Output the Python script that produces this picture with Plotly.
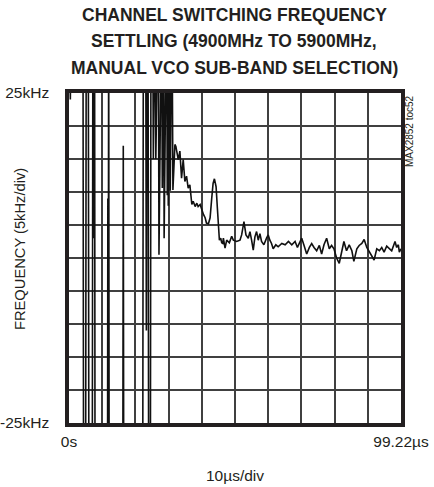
import plotly.graph_objects as go

# ---- data (time in µs, frequency error in kHz) ----
transient_t = [0.0, 0.4, 0.8, 4.2, 4.4, 5.0, 5.2, 5.8, 6.0, 7.0, 7.2, 7.45, 7.7, 7.85,
               11.6, 11.7, 11.8, 11.95, 12.1, 16.2, 16.35, 16.5, 22.2, 22.4, 23.1, 23.3,
               23.5, 23.8, 24.0, 24.5, 24.7, 25.2, 25.4, 25.6, 26.0, 26.15, 26.3, 26.9,
               27.1, 27.3, 27.9, 28.1, 28.3, 28.5, 28.65, 28.8, 29.4, 29.6, 29.75, 29.9,
               30.05, 30.3, 30.5, 30.7, 31.0, 31.3]
transient_f = [40, 24, 40, 40, -40, -40, 40, 40, -40, -40, 40, 3, 40, -40,
               -40, 9, -40, 40, -40, -40, 17, -40, -40, 40, 40, -11,
               40, 40, -40, -40, 40, 40, 15, 40, 40, 15, 40, 40,
               0.5, 40, 40, 10.6, 40, 40, 3, 40, 40, 9.5, 40, 7.9,
               40, 40, 10.2, 40, 40, 10.3]

settle_t = [31.9, 32.2, 32.9, 33.4, 33.9, 34.4, 34.9, 35.4, 35.9, 36.4, 37.0, 37.4, 38.0,
            38.5, 38.9, 39.5, 40.0, 40.5, 41.0, 41.4, 42.0, 42.5, 43.0, 43.4, 43.8, 44.3,
            44.7, 45.0, 45.3, 45.7, 46.0, 46.3, 46.5, 47.0, 47.5, 48.3, 49.0, 49.5, 50.5,
            51.5, 52.0, 52.7, 53.3, 54.0, 54.5, 55.0, 55.5, 56.0, 56.5, 57.0, 57.5, 58.0,
            58.7, 59.5, 60.0, 60.5, 61.0, 61.5, 62.3, 63.0, 64.1, 65.1, 66.1, 67.1, 68.1,
            68.8, 69.6, 70.1, 70.8, 71.6, 72.4, 73.1, 73.8, 74.6, 75.4, 76.1, 76.8, 77.6,
            78.4, 79.1, 79.8, 80.6, 81.4, 82.1, 82.8, 83.6, 84.4, 85.2, 85.8, 86.7, 87.4,
            88.2, 88.9, 89.7, 90.5, 91.2, 91.9, 92.7, 93.5, 94.2, 94.9, 95.7, 96.5, 97.2,
            98.2, 98.7, 99.2, 99.5, 100.0]
settle_f = [17.2, 16.9, 14.9, 16.2, 12.1, 14.9, 11.6, 12.4, 10.6, 11.1, 8.1, 8.6, 7.8,
            8.3, 7.8, 8.1, 7.3, 6.6, 6.1, 5.3, 5.2, 6.1, 9.1, 11.3, 12.0, 10.8,
            7.5, 4.5, 2.7, 3.0, 2.3, 2.2, 3.0, 1.5, 2.7, 2.3, 3.3, 2.7, 2.5,
            2.7, 3.5, 5.5, 3.5, 3.0, 4.0, 2.7, 1.2, 3.2, 4.0, 2.7, 3.7, 2.5,
            2.0, 3.0, 3.5, 2.7, 2.2, 1.4, 2.0, 1.7, 2.2, 2.0, 2.5, 2.0, 2.5,
            1.6, 2.5, 3.0, 1.9, 0.6, 1.6, 2.2, 1.6, 1.1, 1.9, 0.6, 2.0, 3.0,
            1.4, 1.9, 1.4, 0.0, -0.8, 1.1, 2.5, 1.1, 2.0, 1.1, -0.5, 1.4, 1.9,
            2.2, 2.8, 1.6, 0.9, 0.2, -0.3, 1.4, 1.1, 1.6, 0.9, 1.8, 1.4, 1.1,
            2.5, 1.6, 2.0, 0.9, 1.4]

x_tickvals = [0, 10, 20, 30, 40, 50, 60, 70, 80, 90, 100]
x_ticktext = ["0s", "", "", "", "", "", "", "", "", "", "99.22µs"]
y_tickvals = [-25, -20, -15, -10, -5, 0, 5, 10, 15, 20, 25]
y_ticktext = ["-25kHz", "", "", "", "", "", "", "", "", "", "25kHz"]
title_lines = ["CHANNEL SWITCHING FREQUENCY",
               "SETTLING (4900MHz TO 5900MHz,",
               "MANUAL VCO SUB-BAND SELECTION)"]

FONT = "Liberation Sans, Arial, sans-serif"
INK = "#231f20"

fig = go.Figure()
fig.add_trace(go.Scatter(
    x=transient_t + settle_t,
    y=transient_f + settle_f,
    mode="lines",
    line=dict(color="#111111", width=1.6),
    hoverinfo="skip",
    showlegend=False,
))

# plot area on screen: x 69..401 px, y 93..423 px
annotations = []
for i, line in enumerate(title_lines):
    ypix = 14.5 + 26.7 * i
    annotations.append(dict(
        text="<b>" + line + "</b>", xref="paper", yref="paper",
        x=(234 - 69) / 332, y=(423 - ypix) / 330,
        xanchor="center", yanchor="middle", showarrow=False,
        font=dict(family=FONT, size=17.5, color=INK),
    ))
annotations.append(dict(
    text="FREQUENCY (5kHz/div)", textangle=-90,
    xref="paper", yref="paper", x=(20 - 69) / 332, y=(423 - 249) / 330,
    xanchor="center", yanchor="middle", showarrow=False,
    font=dict(family=FONT, size=14.7, color=INK),
))
annotations.append(dict(
    text="MAX2852 toc52", textangle=-90,
    xref="paper", yref="paper", x=(409 - 69) / 332, y=1.0,
    xanchor="center", yanchor="top", showarrow=False,
    font=dict(family=FONT, size=10, color=INK),
))

fig.update_layout(
    width=434, height=487,
    margin=dict(l=69, r=33, t=93, b=64, autoexpand=False),
    paper_bgcolor="white", plot_bgcolor="white",
    font=dict(family=FONT, color=INK, size=15.5),
    hovermode=False,
    xaxis=dict(
        range=[0, 100], tickvals=x_tickvals, ticktext=x_ticktext,
        showgrid=True, gridcolor="#404040", gridwidth=2,
        showline=True, linecolor=INK, linewidth=3.5, mirror=True,
        zeroline=False, ticks="", ticklabelstandoff=2, automargin=False,
        tickfont=dict(size=15.5),
        title=dict(text="10µs/div", font=dict(size=15.5), standoff=22),
    ),
    yaxis=dict(
        range=[-25, 25], tickvals=y_tickvals, ticktext=y_ticktext,
        showgrid=True, gridcolor="#404040", gridwidth=2,
        showline=True, linecolor=INK, linewidth=3.5, mirror=True,
        zeroline=False, ticks="", ticklabelstandoff=13, automargin=False,
        tickfont=dict(size=15.5),
    ),
    annotations=annotations,
)

# remove the browser's default 8px page margin so the figure sits at (0, 0)
fig.write_html("out.html", config={"displayModeBar": False},
               post_script="document.body.style.margin='0px';")
